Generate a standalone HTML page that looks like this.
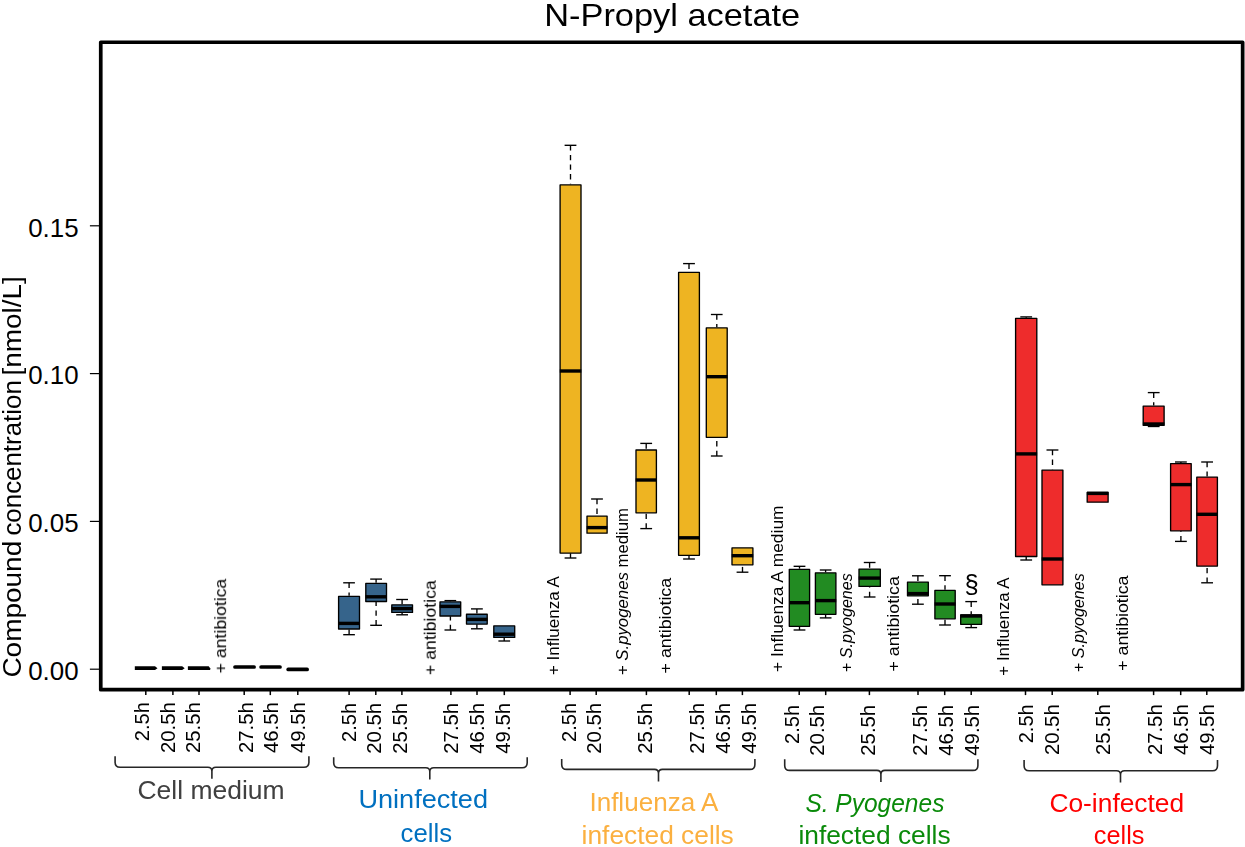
<!DOCTYPE html>
<html><head><meta charset="utf-8"><title>N-Propyl acetate</title>
<style>html,body{margin:0;padding:0;background:#fff}svg{display:block}text{font-family:"Liberation Sans",sans-serif}</style>
</head><body>
<svg width="1245" height="847" viewBox="0 0 1245 847">
<rect x="0" y="0" width="1245" height="847" fill="#ffffff"/>
<rect x="100.75" y="42.25" width="1141.9" height="647.4" fill="none" stroke="#000" stroke-width="3.7" stroke-linejoin="round"/>
<line x1="89.9" y1="225.8" x2="99" y2="225.8" stroke="#000" stroke-width="1.2"/>
<text x="78.6" y="236.6" font-size="25.9" text-anchor="end" fill="#000">0.15</text>
<line x1="89.9" y1="373.6" x2="99" y2="373.6" stroke="#000" stroke-width="1.2"/>
<text x="78.6" y="384.4" font-size="25.9" text-anchor="end" fill="#000">0.10</text>
<line x1="89.9" y1="521.4" x2="99" y2="521.4" stroke="#000" stroke-width="1.2"/>
<text x="78.6" y="532.2" font-size="25.9" text-anchor="end" fill="#000">0.05</text>
<line x1="89.9" y1="669.2" x2="99" y2="669.2" stroke="#000" stroke-width="1.2"/>
<text x="78.6" y="680.0" font-size="25.9" text-anchor="end" fill="#000">0.00</text>
<polygon points="134.8,666.3000000000001 155.0,666.3000000000001 157.5,668.2 155.0,670.1 134.8,670.1" fill="#000"/>
<polygon points="161.9,666.3000000000001 182.2,666.3000000000001 184.7,668.2 182.2,670.1 161.9,670.1" fill="#000"/>
<polygon points="187.9,666.3000000000001 208.7,666.3000000000001 210.2,668.2 210.2,670.1 187.9,670.1" fill="#000"/>
<line x1="235.0" y1="667.0" x2="254.1" y2="667.0" stroke="#000" stroke-width="3.7" stroke-linecap="round"/>
<line x1="261.1" y1="667.0" x2="280.0" y2="667.0" stroke="#000" stroke-width="3.7" stroke-linecap="round"/>
<line x1="288.2" y1="669.4" x2="307.09999999999997" y2="669.4" stroke="#000" stroke-width="3.7" stroke-linecap="round"/>
<line x1="349.1" y1="582.8" x2="349.1" y2="595.8" stroke="#000" stroke-width="1.35" stroke-dasharray="5.3,4.3"/>
<line x1="343.2" y1="582.8" x2="354.9" y2="582.8" stroke="#000" stroke-width="1.35"/>
<line x1="349.1" y1="634.7" x2="349.1" y2="629.2" stroke="#000" stroke-width="1.35" stroke-dasharray="5.3,4.3"/>
<line x1="343.2" y1="634.7" x2="354.9" y2="634.7" stroke="#000" stroke-width="1.35"/>
<rect x="338.6" y="596.4" width="20.9" height="32.6" fill="#36648B" stroke="#000" stroke-width="1.35" stroke-linejoin="round"/>
<line x1="338.3" y1="623.4" x2="359.8" y2="623.4" stroke="#000" stroke-width="3.4"/>
<line x1="376.1" y1="579.1" x2="376.1" y2="582.8" stroke="#000" stroke-width="1.35" stroke-dasharray="5.3,4.3"/>
<line x1="370.2" y1="579.1" x2="382.0" y2="579.1" stroke="#000" stroke-width="1.35"/>
<line x1="376.1" y1="625.3" x2="376.1" y2="601.7" stroke="#000" stroke-width="1.35" stroke-dasharray="5.3,4.3"/>
<line x1="370.2" y1="625.3" x2="382.0" y2="625.3" stroke="#000" stroke-width="1.35"/>
<rect x="365.8" y="583.4" width="20.7" height="18.1" fill="#36648B" stroke="#000" stroke-width="1.35" stroke-linejoin="round"/>
<line x1="365.5" y1="596.8" x2="386.8" y2="596.8" stroke="#000" stroke-width="3.4"/>
<line x1="402.1" y1="599.5" x2="402.1" y2="604.2" stroke="#000" stroke-width="1.35" stroke-dasharray="5.3,4.3"/>
<line x1="396.2" y1="599.5" x2="408.0" y2="599.5" stroke="#000" stroke-width="1.35"/>
<line x1="402.1" y1="614.8" x2="402.1" y2="612.6" stroke="#000" stroke-width="1.35" stroke-dasharray="5.3,4.3"/>
<line x1="396.2" y1="614.8" x2="408.0" y2="614.8" stroke="#000" stroke-width="1.35"/>
<rect x="391.8" y="604.8" width="20.7" height="7.6" fill="#36648B" stroke="#000" stroke-width="1.35" stroke-linejoin="round"/>
<line x1="391.5" y1="608.6" x2="412.8" y2="608.6" stroke="#000" stroke-width="3.4"/>
<line x1="450.4" y1="600.6" x2="450.4" y2="601.3" stroke="#000" stroke-width="1.35" stroke-dasharray="5.3,4.3"/>
<line x1="444.5" y1="600.6" x2="456.2" y2="600.6" stroke="#000" stroke-width="1.35"/>
<line x1="450.4" y1="630" x2="450.4" y2="616.2" stroke="#000" stroke-width="1.35" stroke-dasharray="5.3,4.3"/>
<line x1="444.5" y1="630" x2="456.2" y2="630" stroke="#000" stroke-width="1.35"/>
<rect x="440.0" y="601.9" width="20.7" height="14.1" fill="#36648B" stroke="#000" stroke-width="1.35" stroke-linejoin="round"/>
<line x1="439.7" y1="606.4" x2="461.0" y2="606.4" stroke="#000" stroke-width="3.4"/>
<line x1="476.9" y1="608.9" x2="476.9" y2="613.6" stroke="#000" stroke-width="1.35" stroke-dasharray="5.3,4.3"/>
<line x1="471.0" y1="608.9" x2="482.8" y2="608.9" stroke="#000" stroke-width="1.35"/>
<line x1="476.9" y1="628.8" x2="476.9" y2="624.3" stroke="#000" stroke-width="1.35" stroke-dasharray="5.3,4.3"/>
<line x1="471.0" y1="628.8" x2="482.8" y2="628.8" stroke="#000" stroke-width="1.35"/>
<rect x="466.5" y="614.2" width="20.7" height="9.9" fill="#36648B" stroke="#000" stroke-width="1.35" stroke-linejoin="round"/>
<line x1="466.2" y1="619.4" x2="487.5" y2="619.4" stroke="#000" stroke-width="3.4"/>
<line x1="504.2" y1="641" x2="504.2" y2="637.6" stroke="#000" stroke-width="1.35" stroke-dasharray="5.3,4.3"/>
<line x1="498.4" y1="641" x2="510.1" y2="641" stroke="#000" stroke-width="1.35"/>
<rect x="493.8" y="625.9" width="20.9" height="11.5" fill="#36648B" stroke="#000" stroke-width="1.35" stroke-linejoin="round"/>
<line x1="493.5" y1="634.2" x2="515.0" y2="634.2" stroke="#000" stroke-width="3.4"/>
<line x1="570.5" y1="145.3" x2="570.5" y2="184.3" stroke="#000" stroke-width="1.35" stroke-dasharray="5.3,4.3"/>
<line x1="564.6" y1="145.3" x2="576.4" y2="145.3" stroke="#000" stroke-width="1.35"/>
<line x1="570.5" y1="558" x2="570.5" y2="553.3" stroke="#000" stroke-width="1.35" stroke-dasharray="5.3,4.3"/>
<line x1="564.6" y1="558" x2="576.4" y2="558" stroke="#000" stroke-width="1.35"/>
<rect x="560.1" y="184.9" width="20.9" height="368.2" fill="#EEB422" stroke="#000" stroke-width="1.35" stroke-linejoin="round"/>
<line x1="559.8" y1="371" x2="581.3" y2="371" stroke="#000" stroke-width="3.4"/>
<line x1="597.0" y1="499.0" x2="597.0" y2="515.5" stroke="#000" stroke-width="1.35" stroke-dasharray="5.3,4.3"/>
<line x1="591.1" y1="499.0" x2="602.9" y2="499.0" stroke="#000" stroke-width="1.35"/>
<rect x="587.0" y="516.1" width="20.1" height="17.1" fill="#EEB422" stroke="#000" stroke-width="1.35" stroke-linejoin="round"/>
<line x1="586.7" y1="527.6" x2="607.4" y2="527.6" stroke="#000" stroke-width="3.4"/>
<line x1="646.2" y1="443.4" x2="646.2" y2="449.4" stroke="#000" stroke-width="1.35" stroke-dasharray="5.3,4.3"/>
<line x1="640.3" y1="443.4" x2="652.1" y2="443.4" stroke="#000" stroke-width="1.35"/>
<line x1="646.2" y1="528.6" x2="646.2" y2="513" stroke="#000" stroke-width="1.35" stroke-dasharray="5.3,4.3"/>
<line x1="640.3" y1="528.6" x2="652.1" y2="528.6" stroke="#000" stroke-width="1.35"/>
<rect x="636.0" y="450.0" width="20.4" height="62.8" fill="#EEB422" stroke="#000" stroke-width="1.35" stroke-linejoin="round"/>
<line x1="635.7" y1="480" x2="656.7" y2="480" stroke="#000" stroke-width="3.4"/>
<line x1="689.0" y1="263.6" x2="689.0" y2="271.8" stroke="#000" stroke-width="1.35" stroke-dasharray="5.3,4.3"/>
<line x1="683.1" y1="263.6" x2="694.9" y2="263.6" stroke="#000" stroke-width="1.35"/>
<line x1="689.0" y1="559" x2="689.0" y2="555.5" stroke="#000" stroke-width="1.35" stroke-dasharray="5.3,4.3"/>
<line x1="683.1" y1="559" x2="694.9" y2="559" stroke="#000" stroke-width="1.35"/>
<rect x="678.6" y="272.4" width="20.8" height="282.9" fill="#EEB422" stroke="#000" stroke-width="1.35" stroke-linejoin="round"/>
<line x1="678.3" y1="537.8" x2="699.7" y2="537.8" stroke="#000" stroke-width="3.4"/>
<line x1="716.8" y1="314.5" x2="716.8" y2="327.3" stroke="#000" stroke-width="1.35" stroke-dasharray="5.3,4.3"/>
<line x1="710.9" y1="314.5" x2="722.6" y2="314.5" stroke="#000" stroke-width="1.35"/>
<line x1="716.8" y1="456" x2="716.8" y2="437.5" stroke="#000" stroke-width="1.35" stroke-dasharray="5.3,4.3"/>
<line x1="710.9" y1="456" x2="722.6" y2="456" stroke="#000" stroke-width="1.35"/>
<rect x="706.3" y="327.9" width="20.9" height="109.4" fill="#EEB422" stroke="#000" stroke-width="1.35" stroke-linejoin="round"/>
<line x1="706.0" y1="376.7" x2="727.5" y2="376.7" stroke="#000" stroke-width="3.4"/>
<line x1="742.5" y1="572.2" x2="742.5" y2="565" stroke="#000" stroke-width="1.35" stroke-dasharray="5.3,4.3"/>
<line x1="736.6" y1="572.2" x2="748.4" y2="572.2" stroke="#000" stroke-width="1.35"/>
<rect x="732.0" y="547.9" width="20.9" height="16.9" fill="#EEB422" stroke="#000" stroke-width="1.35" stroke-linejoin="round"/>
<line x1="731.7" y1="555.7" x2="753.2" y2="555.7" stroke="#000" stroke-width="3.4"/>
<line x1="799.5" y1="566.3" x2="799.5" y2="568.7" stroke="#000" stroke-width="1.35" stroke-dasharray="5.3,4.3"/>
<line x1="793.6" y1="566.3" x2="805.4" y2="566.3" stroke="#000" stroke-width="1.35"/>
<line x1="799.5" y1="630" x2="799.5" y2="626.5" stroke="#000" stroke-width="1.35" stroke-dasharray="5.3,4.3"/>
<line x1="793.6" y1="630" x2="805.4" y2="630" stroke="#000" stroke-width="1.35"/>
<rect x="789.3" y="569.3" width="20.3" height="57.0" fill="#228B22" stroke="#000" stroke-width="1.35" stroke-linejoin="round"/>
<line x1="789.0" y1="602.7" x2="809.9" y2="602.7" stroke="#000" stroke-width="3.4"/>
<line x1="825.6" y1="570" x2="825.6" y2="572.3" stroke="#000" stroke-width="1.35" stroke-dasharray="5.3,4.3"/>
<line x1="819.8" y1="570" x2="831.5" y2="570" stroke="#000" stroke-width="1.35"/>
<line x1="825.6" y1="617.9" x2="825.6" y2="614.5" stroke="#000" stroke-width="1.35" stroke-dasharray="5.3,4.3"/>
<line x1="819.8" y1="617.9" x2="831.5" y2="617.9" stroke="#000" stroke-width="1.35"/>
<rect x="815.4" y="572.9" width="20.5" height="41.4" fill="#228B22" stroke="#000" stroke-width="1.35" stroke-linejoin="round"/>
<line x1="815.1" y1="600.6" x2="836.2" y2="600.6" stroke="#000" stroke-width="3.4"/>
<line x1="869.6" y1="562.5" x2="869.6" y2="568.5" stroke="#000" stroke-width="1.35" stroke-dasharray="5.3,4.3"/>
<line x1="863.8" y1="562.5" x2="875.5" y2="562.5" stroke="#000" stroke-width="1.35"/>
<line x1="869.6" y1="597.0" x2="869.6" y2="586.6" stroke="#000" stroke-width="1.35" stroke-dasharray="5.3,4.3"/>
<line x1="863.8" y1="597.0" x2="875.5" y2="597.0" stroke="#000" stroke-width="1.35"/>
<rect x="859.0" y="569.1" width="21.3" height="17.3" fill="#228B22" stroke="#000" stroke-width="1.35" stroke-linejoin="round"/>
<line x1="858.7" y1="578.1" x2="880.6" y2="578.1" stroke="#000" stroke-width="3.4"/>
<line x1="917.9" y1="575.8" x2="917.9" y2="581.5" stroke="#000" stroke-width="1.35" stroke-dasharray="5.3,4.3"/>
<line x1="912.0" y1="575.8" x2="923.8" y2="575.8" stroke="#000" stroke-width="1.35"/>
<line x1="917.9" y1="604.2" x2="917.9" y2="596.0" stroke="#000" stroke-width="1.35" stroke-dasharray="5.3,4.3"/>
<line x1="912.0" y1="604.2" x2="923.8" y2="604.2" stroke="#000" stroke-width="1.35"/>
<rect x="907.5" y="582.1" width="20.8" height="13.7" fill="#228B22" stroke="#000" stroke-width="1.35" stroke-linejoin="round"/>
<line x1="907.2" y1="593.6" x2="928.6" y2="593.6" stroke="#000" stroke-width="3.4"/>
<line x1="945.0" y1="575.7" x2="945.0" y2="589.8" stroke="#000" stroke-width="1.35" stroke-dasharray="5.3,4.3"/>
<line x1="939.1" y1="575.7" x2="950.9" y2="575.7" stroke="#000" stroke-width="1.35"/>
<line x1="945.0" y1="625" x2="945.0" y2="619" stroke="#000" stroke-width="1.35" stroke-dasharray="5.3,4.3"/>
<line x1="939.1" y1="625" x2="950.9" y2="625" stroke="#000" stroke-width="1.35"/>
<rect x="934.9" y="590.4" width="20.3" height="28.4" fill="#228B22" stroke="#000" stroke-width="1.35" stroke-linejoin="round"/>
<line x1="934.6" y1="604" x2="955.5" y2="604" stroke="#000" stroke-width="3.4"/>
<line x1="971.2" y1="601.6" x2="971.2" y2="614.3" stroke="#000" stroke-width="1.35" stroke-dasharray="5.3,4.3"/>
<line x1="965.3" y1="601.6" x2="977.1" y2="601.6" stroke="#000" stroke-width="1.35"/>
<line x1="971.2" y1="627.6" x2="971.2" y2="624.5" stroke="#000" stroke-width="1.35" stroke-dasharray="5.3,4.3"/>
<line x1="965.3" y1="627.6" x2="977.1" y2="627.6" stroke="#000" stroke-width="1.35"/>
<rect x="960.7" y="614.9" width="20.9" height="9.4" fill="#228B22" stroke="#000" stroke-width="1.35" stroke-linejoin="round"/>
<line x1="960.4" y1="616.0" x2="981.9" y2="616.0" stroke="#000" stroke-width="3.4"/>
<line x1="1026.2" y1="316.9" x2="1026.2" y2="317.7" stroke="#000" stroke-width="1.35" stroke-dasharray="5.3,4.3"/>
<line x1="1020.3" y1="316.9" x2="1032.1" y2="316.9" stroke="#000" stroke-width="1.35"/>
<line x1="1026.2" y1="560" x2="1026.2" y2="556.7" stroke="#000" stroke-width="1.35" stroke-dasharray="5.3,4.3"/>
<line x1="1020.3" y1="560" x2="1032.1" y2="560" stroke="#000" stroke-width="1.35"/>
<rect x="1015.6" y="318.3" width="21.2" height="238.2" fill="#EE2C2C" stroke="#000" stroke-width="1.35" stroke-linejoin="round"/>
<line x1="1015.3" y1="453.9" x2="1037.1" y2="453.9" stroke="#000" stroke-width="3.4"/>
<line x1="1052.5" y1="450" x2="1052.5" y2="469.5" stroke="#000" stroke-width="1.35" stroke-dasharray="5.3,4.3"/>
<line x1="1046.5" y1="450" x2="1058.4" y2="450" stroke="#000" stroke-width="1.35"/>
<rect x="1042.0" y="470.1" width="20.9" height="114.7" fill="#EE2C2C" stroke="#000" stroke-width="1.35" stroke-linejoin="round"/>
<line x1="1041.7" y1="559" x2="1063.2" y2="559" stroke="#000" stroke-width="3.4"/>
<rect x="1087.2" y="492.4" width="20.9" height="9.8" fill="#EE2C2C" stroke="#000" stroke-width="1.35" stroke-linejoin="round"/>
<line x1="1086.9" y1="493.4" x2="1108.4" y2="493.4" stroke="#000" stroke-width="3.4"/>
<line x1="1153.7" y1="392.6" x2="1153.7" y2="405.5" stroke="#000" stroke-width="1.35" stroke-dasharray="5.3,4.3"/>
<line x1="1147.8" y1="392.6" x2="1159.6" y2="392.6" stroke="#000" stroke-width="1.35"/>
<line x1="1153.7" y1="426.5" x2="1153.7" y2="425.5" stroke="#000" stroke-width="1.35" stroke-dasharray="5.3,4.3"/>
<line x1="1147.8" y1="426.5" x2="1159.6" y2="426.5" stroke="#000" stroke-width="1.35"/>
<rect x="1143.2" y="406.1" width="20.9" height="19.2" fill="#EE2C2C" stroke="#000" stroke-width="1.35" stroke-linejoin="round"/>
<line x1="1142.9" y1="424" x2="1164.4" y2="424" stroke="#000" stroke-width="3.4"/>
<line x1="1180.9" y1="462" x2="1180.9" y2="463" stroke="#000" stroke-width="1.35" stroke-dasharray="5.3,4.3"/>
<line x1="1175.0" y1="462" x2="1186.8" y2="462" stroke="#000" stroke-width="1.35"/>
<line x1="1180.9" y1="541.4" x2="1180.9" y2="531" stroke="#000" stroke-width="1.35" stroke-dasharray="5.3,4.3"/>
<line x1="1175.0" y1="541.4" x2="1186.8" y2="541.4" stroke="#000" stroke-width="1.35"/>
<rect x="1170.6" y="463.6" width="20.6" height="67.2" fill="#EE2C2C" stroke="#000" stroke-width="1.35" stroke-linejoin="round"/>
<line x1="1170.3" y1="484.6" x2="1191.5" y2="484.6" stroke="#000" stroke-width="3.4"/>
<line x1="1207.1" y1="462" x2="1207.1" y2="476.5" stroke="#000" stroke-width="1.35" stroke-dasharray="5.3,4.3"/>
<line x1="1201.2" y1="462" x2="1213.0" y2="462" stroke="#000" stroke-width="1.35"/>
<line x1="1207.1" y1="582.8" x2="1207.1" y2="566.3" stroke="#000" stroke-width="1.35" stroke-dasharray="5.3,4.3"/>
<line x1="1201.2" y1="582.8" x2="1213.0" y2="582.8" stroke="#000" stroke-width="1.35"/>
<rect x="1196.8" y="477.1" width="20.6" height="89.0" fill="#EE2C2C" stroke="#000" stroke-width="1.35" stroke-linejoin="round"/>
<line x1="1196.5" y1="514.3" x2="1217.7" y2="514.3" stroke="#000" stroke-width="3.4"/>
<line x1="145.8" y1="691" x2="145.8" y2="695.1" stroke="#000" stroke-width="1.5"/>
<line x1="172.9" y1="691" x2="172.9" y2="695.1" stroke="#000" stroke-width="1.5"/>
<line x1="199" y1="691" x2="199" y2="695.1" stroke="#000" stroke-width="1.5"/>
<line x1="244.2" y1="691" x2="244.2" y2="695.1" stroke="#000" stroke-width="1.5"/>
<line x1="270.3" y1="691" x2="270.3" y2="695.1" stroke="#000" stroke-width="1.5"/>
<line x1="297.8" y1="691" x2="297.8" y2="695.1" stroke="#000" stroke-width="1.5"/>
<line x1="349.1" y1="691" x2="349.1" y2="695.1" stroke="#000" stroke-width="1.5"/>
<line x1="375.8" y1="691" x2="375.8" y2="695.1" stroke="#000" stroke-width="1.5"/>
<line x1="401.9" y1="691" x2="401.9" y2="695.1" stroke="#000" stroke-width="1.5"/>
<line x1="450.9" y1="691" x2="450.9" y2="695.1" stroke="#000" stroke-width="1.5"/>
<line x1="477" y1="691" x2="477" y2="695.1" stroke="#000" stroke-width="1.5"/>
<line x1="504.3" y1="691" x2="504.3" y2="695.1" stroke="#000" stroke-width="1.5"/>
<line x1="570.1" y1="691" x2="570.1" y2="695.1" stroke="#000" stroke-width="1.5"/>
<line x1="596.2" y1="691" x2="596.2" y2="695.1" stroke="#000" stroke-width="1.5"/>
<line x1="646.4" y1="691" x2="646.4" y2="695.1" stroke="#000" stroke-width="1.5"/>
<line x1="689.2" y1="691" x2="689.2" y2="695.1" stroke="#000" stroke-width="1.5"/>
<line x1="716.3" y1="691" x2="716.3" y2="695.1" stroke="#000" stroke-width="1.5"/>
<line x1="742.4" y1="691" x2="742.4" y2="695.1" stroke="#000" stroke-width="1.5"/>
<line x1="799.2" y1="691" x2="799.2" y2="695.1" stroke="#000" stroke-width="1.5"/>
<line x1="825.7" y1="691" x2="825.7" y2="695.1" stroke="#000" stroke-width="1.5"/>
<line x1="869.4" y1="691" x2="869.4" y2="695.1" stroke="#000" stroke-width="1.5"/>
<line x1="918" y1="691" x2="918" y2="695.1" stroke="#000" stroke-width="1.5"/>
<line x1="944.7" y1="691" x2="944.7" y2="695.1" stroke="#000" stroke-width="1.5"/>
<line x1="971.2" y1="691" x2="971.2" y2="695.1" stroke="#000" stroke-width="1.5"/>
<line x1="1025.5" y1="691" x2="1025.5" y2="695.1" stroke="#000" stroke-width="1.5"/>
<line x1="1052.2" y1="691" x2="1052.2" y2="695.1" stroke="#000" stroke-width="1.5"/>
<line x1="1097.8" y1="691" x2="1097.8" y2="695.1" stroke="#000" stroke-width="1.5"/>
<line x1="1153.6" y1="691" x2="1153.6" y2="695.1" stroke="#000" stroke-width="1.5"/>
<line x1="1180.7" y1="691" x2="1180.7" y2="695.1" stroke="#000" stroke-width="1.5"/>
<line x1="1206.8" y1="691" x2="1206.8" y2="695.1" stroke="#000" stroke-width="1.5"/>
<path d="M115.1,756.3 L115.1,762.3 Q115.1,767.3 120.1,767.3 L207.9,767.3 Q211.9,767.3 211.9,771.3 L211.9,778.8 M211.9,771.3 Q211.9,767.3 215.9,767.3 L303.9,767.3 Q308.9,767.3 308.9,762.3 L308.9,756.3" fill="none" stroke="#262626" stroke-width="1.6"/>
<path d="M333.7,757.3 L333.7,762.7 Q333.7,767.7 338.7,767.7 L425.8,767.7 Q429.8,767.7 429.8,771.7 L429.8,779.4 M429.8,771.7 Q429.8,767.7 433.8,767.7 L522.2,767.7 Q527.2,767.7 527.2,762.7 L527.2,757.3" fill="none" stroke="#262626" stroke-width="1.6"/>
<path d="M561.7,758.9 L561.7,764.4 Q561.7,769.4 566.7,769.4 L654.5,769.4 Q658.5,769.4 658.5,773.4 L658.5,781.4 M658.5,773.4 Q658.5,769.4 662.5,769.4 L749.9,769.4 Q754.9,769.4 754.9,764.4 L754.9,758.9" fill="none" stroke="#262626" stroke-width="1.6"/>
<path d="M784.7,759.3 L784.7,765.4 Q784.7,770.4 789.7,770.4 L876.9,770.4 Q880.9,770.4 880.9,774.4 L880.9,782.0 M880.9,774.4 Q880.9,770.4 884.9,770.4 L972.9,770.4 Q977.9,770.4 977.9,765.4 L977.9,759.3" fill="none" stroke="#262626" stroke-width="1.6"/>
<path d="M1024.1,759.9 L1024.1,765.8 Q1024.1,770.8 1029.1,770.8 L1116.5,770.8 Q1120.5,770.8 1120.5,774.8 L1120.5,782.4 M1120.5,774.8 Q1120.5,770.8 1124.5,770.8 L1212.5,770.8 Q1217.5,770.8 1217.5,765.8 L1217.5,759.9" fill="none" stroke="#262626" stroke-width="1.6"/>
<g style="mix-blend-mode:multiply">
<text x="544.2" y="25.9" font-size="32" fill="#000" textLength="256" lengthAdjust="spacingAndGlyphs">N-Propyl acetate</text>
<text transform="translate(21.3,677.6) rotate(-90)" font-size="26.5" fill="#000" textLength="136.8" lengthAdjust="spacingAndGlyphs">Compound</text>
<text transform="translate(21.3,535.6) rotate(-90)" font-size="26.5" fill="#000" textLength="155.4" lengthAdjust="spacingAndGlyphs">concentration</text>
<text transform="translate(21.3,375.4) rotate(-90)" font-size="26.5" fill="#000" textLength="99.2" lengthAdjust="spacingAndGlyphs">[nmol/L]</text>
<text transform="translate(149.20000000000002,702.2) rotate(-90)" font-size="19.5" text-anchor="end" fill="#000" textLength="39.0" lengthAdjust="spacingAndGlyphs">2.5h</text>
<text transform="translate(174.70000000000002,702.2) rotate(-90)" font-size="19.5" text-anchor="end" fill="#000" textLength="50.8" lengthAdjust="spacingAndGlyphs">20.5h</text>
<text transform="translate(200.4,702.2) rotate(-90)" font-size="19.5" text-anchor="end" fill="#000" textLength="50.8" lengthAdjust="spacingAndGlyphs">25.5h</text>
<text transform="translate(252.70000000000002,702.2) rotate(-90)" font-size="19.5" text-anchor="end" fill="#000" textLength="50.8" lengthAdjust="spacingAndGlyphs">27.5h</text>
<text transform="translate(278.2,702.2) rotate(-90)" font-size="19.5" text-anchor="end" fill="#000" textLength="50.8" lengthAdjust="spacingAndGlyphs">46.5h</text>
<text transform="translate(304.9,702.2) rotate(-90)" font-size="19.5" text-anchor="end" fill="#000" textLength="50.8" lengthAdjust="spacingAndGlyphs">49.5h</text>
<text transform="translate(355.5,702.9000000000001) rotate(-90)" font-size="19.5" text-anchor="end" fill="#000" textLength="39.0" lengthAdjust="spacingAndGlyphs">2.5h</text>
<text transform="translate(380.59999999999997,702.9000000000001) rotate(-90)" font-size="19.5" text-anchor="end" fill="#000" textLength="50.8" lengthAdjust="spacingAndGlyphs">20.5h</text>
<text transform="translate(406.7,702.9000000000001) rotate(-90)" font-size="19.5" text-anchor="end" fill="#000" textLength="50.8" lengthAdjust="spacingAndGlyphs">25.5h</text>
<text transform="translate(458.4,702.9000000000001) rotate(-90)" font-size="19.5" text-anchor="end" fill="#000" textLength="50.8" lengthAdjust="spacingAndGlyphs">27.5h</text>
<text transform="translate(484.4,702.9000000000001) rotate(-90)" font-size="19.5" text-anchor="end" fill="#000" textLength="50.8" lengthAdjust="spacingAndGlyphs">46.5h</text>
<text transform="translate(510.2,702.9000000000001) rotate(-90)" font-size="19.5" text-anchor="end" fill="#000" textLength="50.8" lengthAdjust="spacingAndGlyphs">49.5h</text>
<text transform="translate(575.5,702.9000000000001) rotate(-90)" font-size="19.5" text-anchor="end" fill="#000" textLength="39.0" lengthAdjust="spacingAndGlyphs">2.5h</text>
<text transform="translate(600.6,702.9000000000001) rotate(-90)" font-size="19.5" text-anchor="end" fill="#000" textLength="50.8" lengthAdjust="spacingAndGlyphs">20.5h</text>
<text transform="translate(652.4,702.9000000000001) rotate(-90)" font-size="19.5" text-anchor="end" fill="#000" textLength="50.8" lengthAdjust="spacingAndGlyphs">25.5h</text>
<text transform="translate(704.1,702.9000000000001) rotate(-90)" font-size="19.5" text-anchor="end" fill="#000" textLength="50.8" lengthAdjust="spacingAndGlyphs">27.5h</text>
<text transform="translate(730.1999999999999,702.9000000000001) rotate(-90)" font-size="19.5" text-anchor="end" fill="#000" textLength="50.8" lengthAdjust="spacingAndGlyphs">46.5h</text>
<text transform="translate(756.3,702.9000000000001) rotate(-90)" font-size="19.5" text-anchor="end" fill="#000" textLength="50.8" lengthAdjust="spacingAndGlyphs">49.5h</text>
<text transform="translate(798.6,704.9000000000001) rotate(-90)" font-size="19.5" text-anchor="end" fill="#000" textLength="39.0" lengthAdjust="spacingAndGlyphs">2.5h</text>
<text transform="translate(824.1,704.9000000000001) rotate(-90)" font-size="19.5" text-anchor="end" fill="#000" textLength="50.8" lengthAdjust="spacingAndGlyphs">20.5h</text>
<text transform="translate(875.4,704.9000000000001) rotate(-90)" font-size="19.5" text-anchor="end" fill="#000" textLength="50.8" lengthAdjust="spacingAndGlyphs">25.5h</text>
<text transform="translate(926.6999999999999,704.9000000000001) rotate(-90)" font-size="19.5" text-anchor="end" fill="#000" textLength="50.8" lengthAdjust="spacingAndGlyphs">27.5h</text>
<text transform="translate(953.1999999999999,704.9000000000001) rotate(-90)" font-size="19.5" text-anchor="end" fill="#000" textLength="50.8" lengthAdjust="spacingAndGlyphs">46.5h</text>
<text transform="translate(978.9,704.9000000000001) rotate(-90)" font-size="19.5" text-anchor="end" fill="#000" textLength="50.8" lengthAdjust="spacingAndGlyphs">49.5h</text>
<text transform="translate(1033.0,704.3000000000001) rotate(-90)" font-size="19.5" text-anchor="end" fill="#000" textLength="39.0" lengthAdjust="spacingAndGlyphs">2.5h</text>
<text transform="translate(1058.7,704.3000000000001) rotate(-90)" font-size="19.5" text-anchor="end" fill="#000" textLength="50.8" lengthAdjust="spacingAndGlyphs">20.5h</text>
<text transform="translate(1110.4,704.3000000000001) rotate(-90)" font-size="19.5" text-anchor="end" fill="#000" textLength="50.8" lengthAdjust="spacingAndGlyphs">25.5h</text>
<text transform="translate(1162.1000000000001,704.3000000000001) rotate(-90)" font-size="19.5" text-anchor="end" fill="#000" textLength="50.8" lengthAdjust="spacingAndGlyphs">27.5h</text>
<text transform="translate(1188.2,704.3000000000001) rotate(-90)" font-size="19.5" text-anchor="end" fill="#000" textLength="50.8" lengthAdjust="spacingAndGlyphs">46.5h</text>
<text transform="translate(1213.9,704.3000000000001) rotate(-90)" font-size="19.5" text-anchor="end" fill="#000" textLength="50.8" lengthAdjust="spacingAndGlyphs">49.5h</text>
<text x="137.4" y="798.9" font-size="25.8" fill="#404040" textLength="147.2" lengthAdjust="spacingAndGlyphs" >Cell medium</text>
<text x="358.4" y="807.9" font-size="25.8" fill="#0070C0" textLength="129.6" lengthAdjust="spacingAndGlyphs" >Uninfected</text>
<text x="400.6" y="841.6" font-size="25.8" fill="#0070C0" textLength="51.4" lengthAdjust="spacingAndGlyphs" >cells</text>
<text x="589.4" y="810.5" font-size="25.8" fill="#FBB040" textLength="129.0" lengthAdjust="spacingAndGlyphs" >Influenza A</text>
<text x="581.6" y="843.7" font-size="25.8" fill="#FBB040" textLength="152.2" lengthAdjust="spacingAndGlyphs" >infected cells</text>
<text x="805.4" y="811.5" font-size="25.8" fill="#0A8A0A" textLength="139.0" lengthAdjust="spacingAndGlyphs" font-style="italic">S. Pyogenes</text>
<text x="798.4" y="843.7" font-size="25.8" fill="#0A8A0A" textLength="152.2" lengthAdjust="spacingAndGlyphs" >infected cells</text>
<text x="1049.4" y="811.5" font-size="25.8" fill="#FF0000" textLength="134.8" lengthAdjust="spacingAndGlyphs" >Co-infected</text>
<text x="1093.8" y="843.7" font-size="25.8" fill="#FF0000" textLength="50.6" lengthAdjust="spacingAndGlyphs" >cells</text>
<text transform="translate(226.1,673.4) rotate(-90)" font-size="16.6" fill="#000" textLength="94.7" lengthAdjust="spacingAndGlyphs">+ antibiotica</text>
<text transform="translate(435.7,675.1) rotate(-90)" font-size="16.6" fill="#000" textLength="94.9" lengthAdjust="spacingAndGlyphs">+ antibiotica</text>
<text transform="translate(559.0,675.1) rotate(-90)" font-size="16.6" fill="#000" textLength="99.0" lengthAdjust="spacingAndGlyphs">+ Influenza A</text>
<text transform="translate(627.7,675.1) rotate(-90)" font-size="16.6" fill="#000" textLength="167.2" lengthAdjust="spacingAndGlyphs">+ <tspan font-style="italic">S.pyogenes</tspan> medium</text>
<text transform="translate(671.1,673.4) rotate(-90)" font-size="16.6" fill="#000" textLength="95.6" lengthAdjust="spacingAndGlyphs">+ antibiotica</text>
<text transform="translate(782.8,672.0) rotate(-90)" font-size="16.6" fill="#000" textLength="166.5" lengthAdjust="spacingAndGlyphs">+ Influenza A medium</text>
<text transform="translate(852.2,672.0) rotate(-90)" font-size="16.6" fill="#000" textLength="98.8" lengthAdjust="spacingAndGlyphs">+ <tspan font-style="italic">S.pyogenes</tspan></text>
<text transform="translate(898.9,671.5) rotate(-90)" font-size="16.6" fill="#000" textLength="95.3" lengthAdjust="spacingAndGlyphs">+ antibiotica</text>
<text transform="translate(1008.6,675.7) rotate(-90)" font-size="16.6" fill="#000" textLength="98.3" lengthAdjust="spacingAndGlyphs">+ Influenza A</text>
<text transform="translate(1084.2,672.0) rotate(-90)" font-size="16.6" fill="#000" textLength="98.8" lengthAdjust="spacingAndGlyphs">+ <tspan font-style="italic">S.pyogenes</tspan></text>
<text transform="translate(1127.6,670.8000000000001) rotate(-90)" font-size="16.6" fill="#000" textLength="95.3" lengthAdjust="spacingAndGlyphs">+ antibiotica</text>
<text x="964.4" y="592.8" font-size="25.5" fill="#000">§</text>
</g>
</svg></body></html>
